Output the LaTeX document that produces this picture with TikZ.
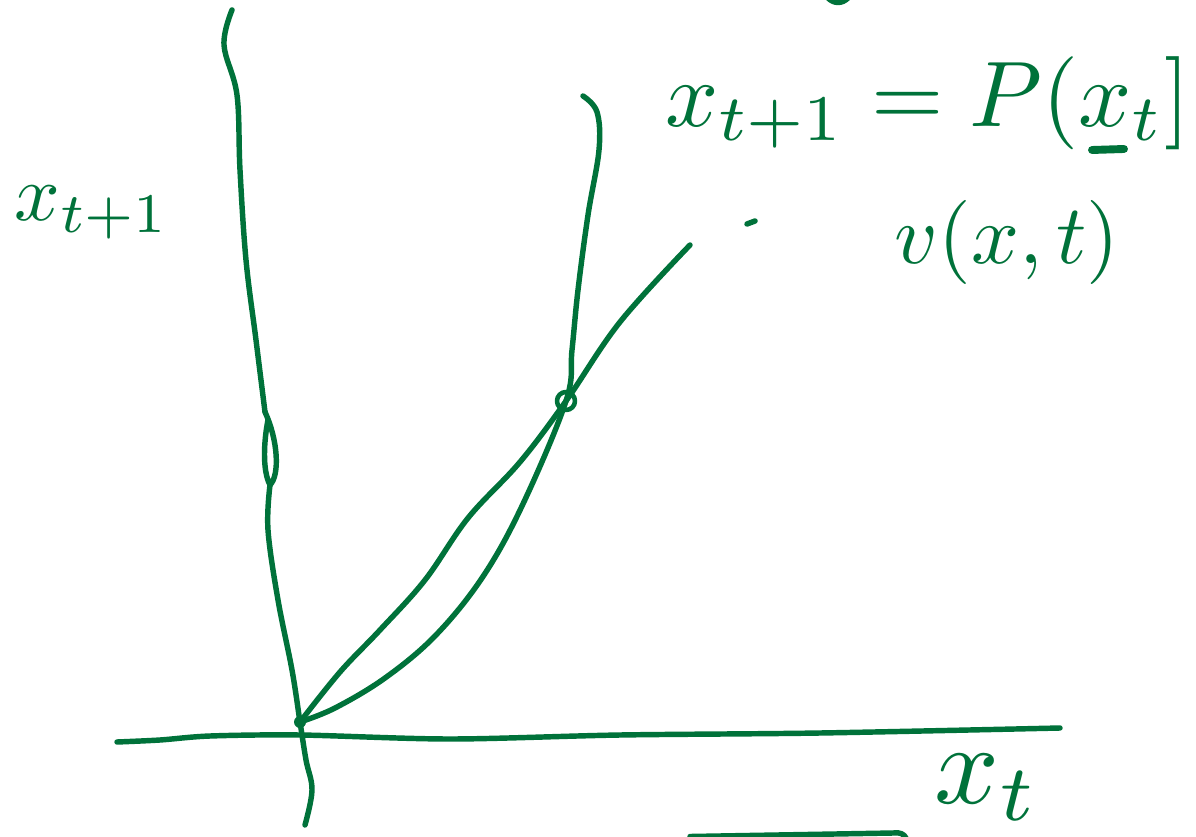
\documentclass[tikz,border=0pt]{standalone}
\usepackage{tikz}
\usetikzlibrary{calc}
\definecolor{pen}{RGB}{0,114,58}

\begin{document}
\begin{tikzpicture}[x=0.02cm, y=-0.02cm,
  hand/.style={draw=pen, line width=3.1pt, line cap=round, line join=round},
  lbl/.style={text=pen, inner sep=0pt}]
  \useasboundingbox (0,0) rectangle (1196,837);
  \coordinate (O) at (300,722);
  \coordinate (F) at (566,401);
  % axes
  \draw[hand] plot[smooth, tension=0.6] coordinates {(232,10) (224,45) (237,95) (240,170) (246,260) (256,340) (265,412)};
  \draw[hand] (265,412) .. controls (278,440) and (280,475) .. (270,485) .. controls (262,470) and (264,440) .. (268,420);
  \draw[hand] plot[smooth, tension=0.6] coordinates {(270,485) (268,530) (278,600) (292,670) (O) (306,760) (312,790) (305,825)};
  \draw[hand] plot[smooth, tension=0.5] coordinates {(117,742) (160,740) (210,736) (300,735) (450,739) (620,735) (820,733) (1060,728)};
  % curves through the fixed point
  \draw[hand] plot[smooth, tension=0.6] coordinates {(O) (340,672) (380,630) (425,580) (468,518) (520,462) (F) (620,322) (690,245)};
  \draw[hand] plot[smooth, tension=0.6] coordinates {(O) (335,708) (385,678) (435,636) (482,578) (522,506) (F) (572,350) (578,290) (588,215) (599,150) (597,112) (583,96)};
  \draw[hand, line width=2.6pt] (F) circle[radius=9];
  \fill[pen] (O) circle[radius=6];
  % labels
  \node[lbl] (ylab) at (92,213) {\resizebox{3.1cm}{!}{$x_{t+1}$}};
  \node[lbl] (eqn) at (928,103) {\resizebox{10.5cm}{!}{$x_{t+1} = P(x_t]$}};
  \node[lbl] (vlab) at (1007,242) {\resizebox{4.5cm}{!}{$v(x,t)$}};
  \node[lbl] (xlab) at (987,788) {\resizebox{2.1cm}{!}{$x_t$}};
  \draw[hand, line width=4.5pt] (1092,150) -- (1124,149);
  % stray marks
  \draw[hand] (747,224) -- (755,221);
  \draw[hand] (828,-2) .. controls (834,4) and (842,4) .. (848,-2);
  \draw[hand] (690,836.5) -- (893,833) .. controls (900,832) and (904,834) .. (906,838);
\end{tikzpicture}
\end{document}
